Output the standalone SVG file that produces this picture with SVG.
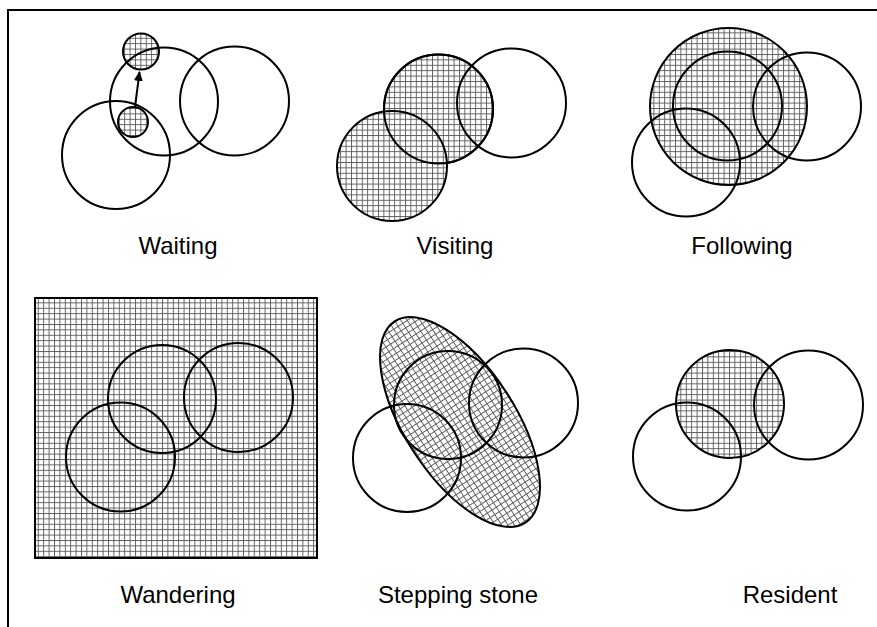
<svg xmlns="http://www.w3.org/2000/svg" width="877" height="627" viewBox="0 0 877 627">
<style>
.o{fill:none;stroke:#000;stroke-width:2}
.h{fill:url(#grid);stroke:#000;stroke-width:2}
.lbl{font-family:"Liberation Sans",Arial,sans-serif;font-size:24px;fill:#000;text-anchor:middle}
</style>
<defs>
<pattern id="grid" width="5.4" height="5.4" patternUnits="userSpaceOnUse">
<rect width="5.4" height="5.4" fill="#fff"/>
<path d="M0 0.5H5.4M0.5 0V5.4" stroke="#555" stroke-width="0.9"/>
</pattern>
<marker id="ah" markerWidth="12" markerHeight="12" refX="9" refY="6" orient="auto" markerUnits="userSpaceOnUse">
<path d="M0 1.5L10 6L0 10.5Z" fill="#000"/>
</marker>
</defs>
<rect width="877" height="627" fill="#fff"/>
<path d="M8 627V10H877" fill="none" stroke="#000" stroke-width="2"/>

<g id="waiting">
<circle class="h" cx="141" cy="51.5" r="18"/>
<circle class="h" cx="133" cy="122" r="15"/>
<circle class="o" cx="164" cy="101.5" r="54"/>
<circle class="o" cx="234.5" cy="101" r="54.5"/>
<circle class="o" cx="116" cy="155" r="54"/>
<text class="lbl" x="178" y="254">Waiting</text>
</g>

<g id="visiting">
<circle class="h" cx="438.5" cy="109" r="54.5"/>
<circle class="h" cx="392" cy="166" r="55"/>
<circle class="o" cx="438.5" cy="109" r="54.5"/>
<circle class="o" cx="511.5" cy="103" r="54.5"/>
<text class="lbl" x="455" y="254">Visiting</text>
</g>

<g id="following">
<circle class="h" cx="728.5" cy="106.5" r="78.5"/>
<circle class="o" cx="727.5" cy="106" r="54.5"/>
<circle class="o" cx="807" cy="106.5" r="54"/>
<circle class="o" cx="686" cy="162.5" r="54"/>
<text class="lbl" x="742" y="254">Following</text>
</g>

<g id="wandering">
<rect class="h" x="35" y="298" width="282" height="260"/>
<circle class="o" cx="162" cy="399" r="54"/>
<circle class="o" cx="238.5" cy="397.5" r="54.5"/>
<circle class="o" cx="120.5" cy="457" r="54.5"/>
<text class="lbl" x="178" y="603">Wandering</text>
</g>

<g id="stepping-stone">
<ellipse class="h" cx="460" cy="422" rx="120" ry="55" transform="rotate(57 460 422)"/>
<circle class="o" cx="448" cy="405" r="54"/>
<circle class="o" cx="523.5" cy="403" r="54.5"/>
<circle class="o" cx="407" cy="458" r="54"/>
<text class="lbl" x="458" y="603">Stepping stone</text>
</g>

<g id="resident">
<circle class="h" cx="730" cy="404" r="54"/>
<circle class="o" cx="808.5" cy="405" r="54.5"/>
<circle class="o" cx="687" cy="456.5" r="54"/>
<text class="lbl" x="790" y="603">Resident</text>
</g>

<g id="connectors">
<line x1="135" y1="107" x2="139.5" y2="72" stroke="#000" stroke-width="2" marker-end="url(#ah)"/>
</g>
</svg>
